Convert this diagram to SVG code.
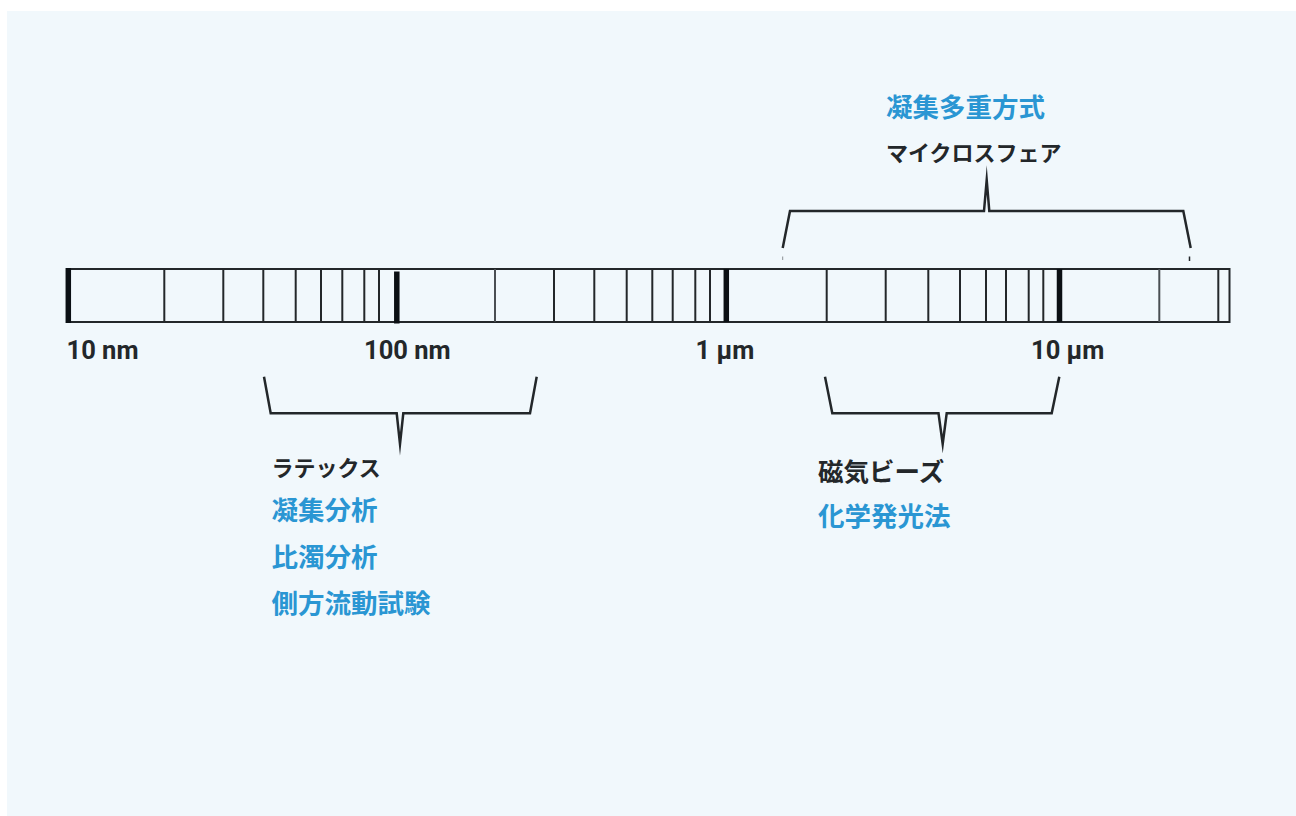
<svg xmlns="http://www.w3.org/2000/svg" width="1296" height="816" viewBox="0 0 1296 816">
  <style>
    .bg { fill: #f1f8fc; }
    .bar { fill: none; stroke: #23272a; stroke-width: 2; }
    .tk { stroke: #23272a; stroke-width: 2; }
    .tkl { stroke: #4a4f53; stroke-width: 2; }
    .tkb { stroke: #0b1014; stroke-width: 5.5; }
    .brace { fill: none; stroke: #23272a; stroke-width: 2.5; stroke-linejoin: miter; stroke-miterlimit: 20; }
    .lab { font-family: Roboto, "Liberation Sans", sans-serif; font-weight: 700; font-size: 25.5px; fill: #23272a; }
    .jk { font-family: "Noto Sans CJK JP", "Noto Sans", sans-serif; font-weight: 700; fill: #23272a; }
    .jb { font-family: "Noto Sans CJK JP", "Noto Sans", sans-serif; font-weight: 700; fill: #2a96d3; font-size: 26.5px; }
  </style>
  <rect class="bg" x="7" y="11" width="1289" height="805"/>

  <g id="scale-bar">
    <rect class="bar" x="67" y="269" width="1162.5" height="53"/>
    <line class="tkb" x1="68.3" y1="268" x2="68.3" y2="323"/>
    <line class="tk" x1="164.3" y1="269" x2="164.3" y2="322"/>
    <line class="tk" x1="223.3" y1="269" x2="223.3" y2="322" stroke-width="2.5"/>
    <line class="tk" x1="263.3" y1="269" x2="263.3" y2="322"/>
    <line class="tk" x1="295.7" y1="269" x2="295.7" y2="322"/>
    <line class="tk" x1="321" y1="269" x2="321" y2="322" stroke-width="2.5"/>
    <line class="tk" x1="342.3" y1="269" x2="342.3" y2="322"/>
    <line class="tk" x1="364.3" y1="269" x2="364.3" y2="322"/>
    <line class="tk" x1="379" y1="269" x2="379" y2="322"/>
    <line class="tkb" x1="396.8" y1="271.5" x2="396.8" y2="323.5" stroke-width="5"/>
    <line class="tkl" x1="495" y1="269" x2="495" y2="322"/>
    <line class="tk" x1="554" y1="269" x2="554" y2="322" stroke-width="2.5"/>
    <line class="tk" x1="594.3" y1="269" x2="594.3" y2="322" stroke-width="2.5"/>
    <line class="tk" x1="626.7" y1="269" x2="626.7" y2="322"/>
    <line class="tk" x1="652.3" y1="269" x2="652.3" y2="322"/>
    <line class="tk" x1="672.7" y1="269" x2="672.7" y2="322"/>
    <line class="tk" x1="695.3" y1="269" x2="695.3" y2="322"/>
    <line class="tk" x1="710" y1="269" x2="710" y2="322"/>
    <line class="tkb" x1="726.3" y1="269" x2="726.3" y2="322" stroke-width="6"/>
    <line class="tk" x1="826.7" y1="269" x2="826.7" y2="322" stroke-width="2.5"/>
    <line class="tk" x1="885.7" y1="269" x2="885.7" y2="322"/>
    <line class="tk" x1="928.3" y1="269" x2="928.3" y2="322"/>
    <line class="tk" x1="960" y1="269" x2="960" y2="322"/>
    <line class="tk" x1="986" y1="269" x2="986" y2="322"/>
    <line class="tk" x1="1006" y1="269" x2="1006" y2="322" stroke-width="2.5"/>
    <line class="tk" x1="1028.7" y1="269" x2="1028.7" y2="322"/>
    <line class="tk" x1="1043.3" y1="269" x2="1043.3" y2="322"/>
    <line class="tkb" x1="1059.5" y1="269" x2="1059.5" y2="322"/>
    <line class="tkl" x1="1159.3" y1="269" x2="1159.3" y2="322"/>
    <line class="tk" x1="1218.3" y1="269" x2="1218.3" y2="322" stroke-width="3.5"/>
  </g>

  <g id="scale-labels">
    <text class="lab" x="66.5" y="358.5">10 nm</text>
    <text class="lab" x="364" y="358.5">100 nm</text>
    <text class="lab" x="695.5" y="358.5">1 µm</text>
    <text class="lab" x="1031" y="358.5">10 µm</text>
  </g>

  <g id="connectors">
    <path class="brace" d="M782.7,248 L790,211 L984,211 L986.7,180 L989.3,211 L1183.3,211 L1190.7,248"/>
    <line x1="782.7" y1="256.5" x2="782.7" y2="260" stroke="#8a8f93" stroke-width="1"/>
    <line x1="1189.5" y1="256.5" x2="1189.5" y2="261" stroke="#23272a" stroke-width="1.5"/>
    <path class="brace" d="M264,376.7 L270.7,413.3 L396.7,413.3 L400,444 L403.3,413.3 L530,413.3 L536.7,376.7"/>
    <path class="brace" d="M825,376.7 L832.3,413.3 L938.5,413.3 L942.7,444 L946.7,413.3 L1051.7,413.3 L1059.3,376.7"/>
  </g>

  <g id="node-microsphere">
    <text class="jb" x="886" y="116.5">凝集多重方式</text>
    <text class="jk" x="886" y="161" font-size="22">マイクロスフェア</text>
  </g>

  <g id="node-latex">
    <text class="jk" x="271.5" y="476" font-size="22">ラテックス</text>
    <text class="jb" x="271.5" y="520">凝集分析</text>
    <text class="jb" x="271.5" y="566.5">比濁分析</text>
    <text class="jb" x="271.5" y="613">側方流動試験</text>
  </g>

  <g id="node-magnetic">
    <text class="jk" x="818" y="480.5" font-size="25.5">磁気ビーズ</text>
    <text class="jb" x="818" y="526">化学発光法</text>
  </g>
</svg>
